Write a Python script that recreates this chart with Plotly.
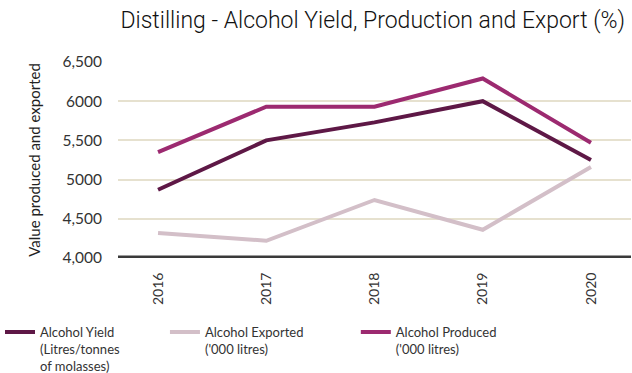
import plotly.graph_objects as go

years = ["2016", "2017", "2018", "2019", "2020"]
alcohol_yield = [4870, 5500, 5730, 6000, 5250]
alcohol_exported = [4320, 4220, 4740, 4360, 5160]
alcohol_produced = [5350, 5930, 5930, 6290, 5470]

y_tickvals = [4000, 4500, 5000, 5500, 6000, 6500]
y_ticktext = ["4,000", "4,500", "5000", "5,500", "6000", "6,500"]

series = [
    ("Alcohol Yield<br>(Litres/tonnes<br>of molasses)", alcohol_yield, "#5e1846", "legend", 0.0),
    ("Alcohol Exported<br>('000 litres)", alcohol_exported, "#d3bfc8", "legend2", 0.261),
    ("Alcohol Produced<br>('000 litres)", alcohol_produced, "#9c2a70", "legend3", 0.563),
]

fig = go.Figure()
for name, vals, color, leg, _ in series:
    fig.add_trace(go.Scatter(
        x=years, y=vals, name=name, mode="lines",
        line=dict(color=color, width=4),
        legend=leg,
    ))

legend_font = dict(family="Lato, Open Sans, sans-serif", size=13, color="#333333")
legend_common = dict(
    orientation="h", yanchor="top", xanchor="left",
    xref="container", yref="container", y=0.15,
    font=legend_font, bgcolor="rgba(0,0,0,0)", itemwidth=30,
    valign="top",
)

fig.update_layout(
    width=632, height=373,
    margin=dict(l=118, r=1, t=62, b=115),
    paper_bgcolor="white", plot_bgcolor="white",
    title=dict(
        text="Distilling - Alcohol Yield, Production and Export (%)",
        x=0.989, xanchor="right", xref="container",
        y=0.968, yanchor="top",
        font=dict(family="Roboto, sans-serif", size=23, weight=300, color="#111111"),
    ),
    showlegend=True,
    legend=dict(legend_common, x=series[0][4]),
    legend2=dict(legend_common, x=series[1][4]),
    legend3=dict(legend_common, x=series[2][4]),
    xaxis=dict(
        type="category", range=[-0.37, 4.37],
        showgrid=False, zeroline=False, showline=False,
        tickangle=-90, ticks="outside", ticklen=8, tickcolor="rgba(0,0,0,0)",
        tickfont=dict(family="Lato, Open Sans, sans-serif", size=14, color="#333333"),
    ),
    yaxis=dict(
        range=[4000, 6500], tickvals=y_tickvals, ticktext=y_ticktext,
        showgrid=True, gridcolor="#e6e1cf", gridwidth=2,
        zeroline=False, showline=False,
        ticks="outside", ticklen=12, tickcolor="rgba(0,0,0,0)",
        tickfont=dict(family="Lato, Open Sans, sans-serif", size=15.5, color="#333333"),
        title=dict(text="Value produced and exported", standoff=18,
                   font=dict(family="Lato, Open Sans, sans-serif", size=15, color="#222222")),
    ),
)

# heavy baseline along the bottom of the plot
fig.add_shape(type="line", xref="paper", yref="y", x0=0, x1=1, y0=4000, y1=4000,
              line=dict(color="#3a3a3a", width=5), layer="above")

fig.write_html("out.html")
